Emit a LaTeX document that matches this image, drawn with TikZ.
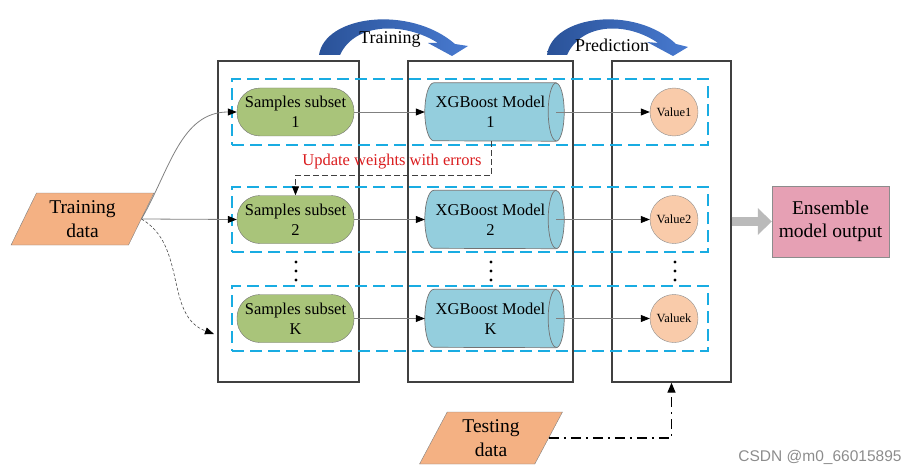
\documentclass[tikz,border=0pt]{standalone}
\usepackage{fontspec}
\setmainfont{Liberation Serif}
\newfontfamily\wmfont{Liberation Sans}
\usepackage{tikz}
\usetikzlibrary{calc,positioning,shapes,arrows.meta}

\definecolor{rowblue}{RGB}{25,172,226}
\definecolor{subgreen}{RGB}{169,196,122}
\definecolor{cylblue}{RGB}{148,206,221}
\definecolor{valpeach}{RGB}{249,203,170}
\definecolor{dataorange}{RGB}{244,177,131}
\definecolor{enspink}{RGB}{230,160,180}
\definecolor{updred}{RGB}{218,28,30}
\definecolor{arcdark}{RGB}{42,82,152}
\definecolor{arclight}{RGB}{72,122,208}

\newcommand{\mainsz}{\fontsize{16.5}{20}\selectfont}
\newcommand{\bigsz}{\fontsize{19.5}{23.5}\selectfont}
\newcommand{\ttlsz}{\fontsize{18}{21}\selectfont}
\newcommand{\valsz}{\fontsize{12.5}{15}\selectfont}

\tikzset{
  colbox/.style={draw=black!75, line width=1.4pt, minimum height=321pt, inner sep=0pt},
  rowbox/.style={draw=rowblue, line width=2pt, dash pattern=on 12pt off 6pt,
    minimum width=476pt, minimum height=65pt, inner sep=0pt},
  subset/.style={draw=black!55, fill=subgreen, rounded corners=23pt, minimum width=117pt,
    minimum height=48pt, align=center, font=\mainsz},
  cylbox/.style={minimum width=139pt, minimum height=58pt, inner sep=0pt},
  cylface/.style={draw=black!55, fill=cylblue, line width=0.7pt},
  valnode/.style={circle, draw=black!45, fill=valpeach, minimum size=48pt, inner sep=0pt, font=\valsz},
  datanode/.style={trapezium, trapezium left angle=65, trapezium right angle=115,
    trapezium stretches=true, draw=black!50, fill=dataorange, minimum width=143pt,
    minimum height=52pt, align=center, font=\bigsz},
  ensbox/.style={draw=black!45, fill=enspink, minimum width=117pt, minimum height=71pt,
    align=center, font=\bigsz},
  flow/.style={draw=black!50, line width=0.8pt, -{Triangle[length=9pt,width=7pt,black]}},
  upd/.style={draw=black!75, line width=1pt, dash pattern=on 6pt off 3pt,
    -{Triangle[length=9pt,width=7pt,black]}},
  testline/.style={draw=black, line width=1.4pt, dash pattern=on 10pt off 5pt on 2pt off 5pt,
    -{Triangle[length=10pt,width=8pt,black]}},
  bigarrow/.style={draw=black!27, line width=9pt, -{Triangle[length=14pt,width=26pt]}}
}

\begin{document}
\begin{tikzpicture}[x=1pt,y=1pt]
\useasboundingbox (0,0) rectangle (924,475);
% stages
\node[colbox, minimum width=141pt] (col1) at (288.5,253.5) {};
\node[colbox, minimum width=165pt] (col2) at (490.5,253.5) {};
\node[colbox, minimum width=119pt] (col3) at (671.5,253.5) {};

% one row per subset
\foreach \i/\y/\n/\v in {1/363/1/Value1, 2/255.5/2/Value2, k/156.5/K/Valuek}{
  \node[rowbox] (r\i) at (470,\y) {};
  \node[subset] (s\i) at (295.5,\y) {Samples subset\\\n};
  \node[cylbox] (c\i) at (494.5,\y) {};
  \filldraw[cylface] ([xshift=-8pt]c\i.north east) -- ([xshift=9pt]c\i.north west)
    arc[start angle=90, end angle=270, x radius=9pt, y radius=29pt]
    -- ([xshift=-8pt]c\i.south east) arc[start angle=-90, end angle=90, x radius=8pt, y radius=29pt] -- cycle;
  \draw[draw=black!55, line width=0.7pt] ([xshift=-8pt]c\i.north east)
    arc[start angle=90, end angle=270, x radius=8pt, y radius=29pt];
  \node[align=center, font=\mainsz] (ct\i) at ([xshift=-4pt]c\i) {XGBoost Model\\\n};
  \node[valnode] (v\i) at (674,\y) {\v};
  \draw[flow] (s\i) -- (c\i);
  \draw[flow] ([xshift=-8pt]c\i.east) -- (v\i);
}
% vertical dots
\foreach \x in {296,491,675}{
  \foreach \y in {195,204,213}{\fill (\x,\y) circle (1.7pt);}
}

% data
\node[datanode] (tdata) at (82.5,256) {Training\\data};
\node[datanode] (tst) at (491,37) {Testing\\data};
\node[ensbox] (ens) at (830.5,253.5) {Ensemble\\model output};

\coordinate (kin) at (214,141);
\draw[flow] (tdata.east) to[out=60,in=180] (s1.west);
\draw[flow] (tdata.east) -- (s2.west);
\draw[flow, draw=black!70, line width=0.6pt, densely dashed] (tdata.east) to[out=-30,in=160] (kin);

\draw[upd] ([xshift=-3pt]c1.south) -- ++(0,-34) -| (s2.north);
\node[text=updred, font=\mainsz] (updlbl) at (392,313) {Update weights with errors};

\draw[testline] (tst.east) -| (col3.south);
\draw[bigarrow] (col3.east) -- (ens.west);

% curved arrows on top
\shade[left color=arcdark, right color=arclight] (319,420) .. controls (325,460) and (410,470) .. (455,431)
  -- (468,429) -- (452,419) -- (428,432) -- (438,432) .. controls (405,453) and (355,453) .. (340,420) -- cycle;
\shade[left color=arcdark, right color=arclight] (547,420) .. controls (552,460) and (635,470) .. (676,431)
  -- (688,428) -- (673,419) -- (647,433) -- (658,432) .. controls (628,453) and (582,453) .. (567,420) -- cycle;
\node[font=\ttlsz] (trn) at (390,436) {Training};
\node[font=\ttlsz] (prd) at (612,430) {Prediction};

\node[font=\wmfont\fontsize{15.5}{18}\selectfont, text=black!45] (wm) at (820,18) {CSDN @m0\_66015895};
\end{tikzpicture}
\end{document}
